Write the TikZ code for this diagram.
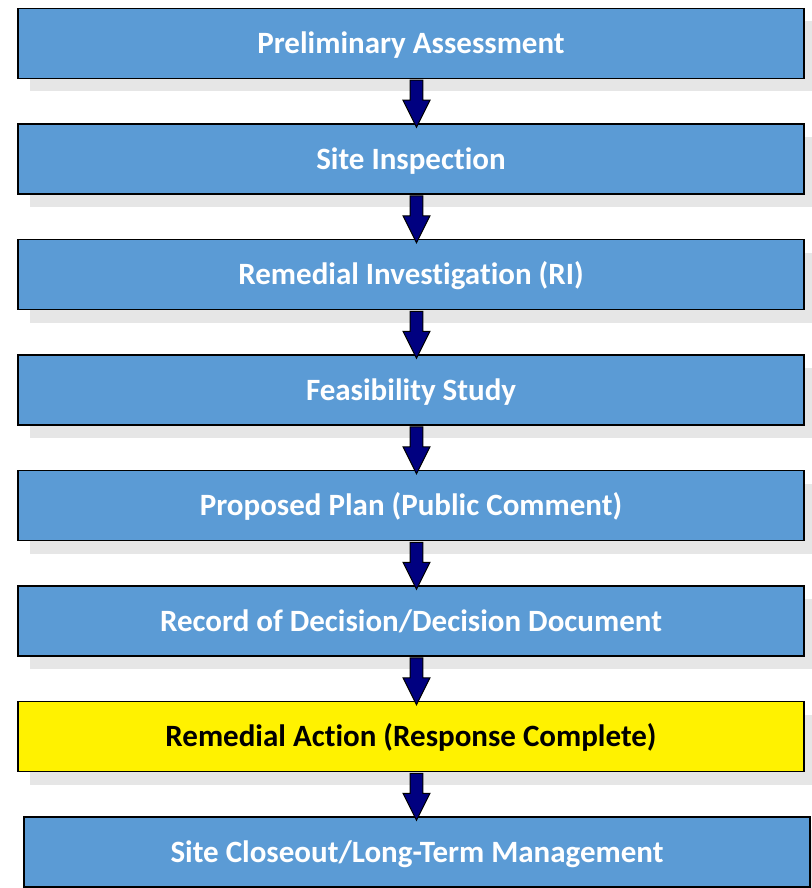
\documentclass[tikz,border=0pt]{standalone}
\usepackage{fontspec}
\setmainfont{Carlito}[Ligatures=CommonOff]
\usetikzlibrary{positioning,calc,shadows}

\definecolor{stepblue}{HTML}{5B9BD5}
\definecolor{arrownavy}{HTML}{000080}
\definecolor{shadowgray}{HTML}{E6E6E6}

\tikzset{
  phase/.style={draw=black,line width=1.5pt,fill=stepblue,text=white,
    minimum width=786pt,minimum height=70pt,text height=20pt,text depth=0pt,
    font=\fontsize{31}{36}\selectfont\bfseries,
    drop shadow={shadow xshift=12pt,shadow yshift=-13pt,fill=shadowgray,opacity=1}},
  done/.style={phase,fill=yellow,text=black},
  flow/.style={draw=black,line width=1pt,fill=arrownavy,
    to path={let \p1=(\tikztostart),\p2=(\tikztotarget) in
      (\x1-6.3pt,\y1) -- (\x1+6.3pt,\y1) -- (\x1+6.3pt,\y2+27pt) -- (\x1+13.5pt,\y2+27pt)
      -- (\x1,\y2) -- (\x1-13.5pt,\y2+27pt) -- (\x1-6.3pt,\y2+27pt) -- cycle}}
}

\begin{document}
\begin{tikzpicture}[x=1pt,y=-1pt]
\useasboundingbox (0,0) rectangle (811,888);

% the steps
\node[phase] (pa) at (411,43.5) {Preliminary Assessment};
\node[phase,below=44pt of pa] (si) {Site Inspection};
\node[phase,below=44pt of si] (ri) {Remedial Investigation (RI)};
\node[phase,below=44pt of ri] (fs) {Feasibility Study};
\node[phase,below=44pt of fs] (pp) {Proposed Plan (Public Comment)};
\node[phase,below=44pt of pp] (rod) {Record of Decision/Decision Document};
\node[done,below=44pt of rod] (ra) {Remedial Action (Response Complete)};
\node[phase,below=44pt of ra,xshift=6pt] (sc) {Site Closeout/Long-Term Management};

% arrows between them
\draw[flow] ([xshift=5.5pt,yshift=-1pt]pa.south) to ([yshift=-4pt]si.north);
\draw[flow] ([xshift=5.5pt,yshift=-1pt]si.south) to ([yshift=-4pt]ri.north);
\draw[flow] ([xshift=5.5pt,yshift=-1pt]ri.south) to ([yshift=-4pt]fs.north);
\draw[flow] ([xshift=5.5pt,yshift=-1pt]fs.south) to ([yshift=-4pt]pp.north);
\draw[flow] ([xshift=5.5pt,yshift=-1pt]pp.south) to ([yshift=-4pt]rod.north);
\draw[flow] ([xshift=5.5pt,yshift=-1pt]rod.south) to ([yshift=-4pt]ra.north);
\draw[flow] ([xshift=5.5pt,yshift=-1pt]ra.south) to ([yshift=-4pt]sc.north);
\end{tikzpicture}
\end{document}
